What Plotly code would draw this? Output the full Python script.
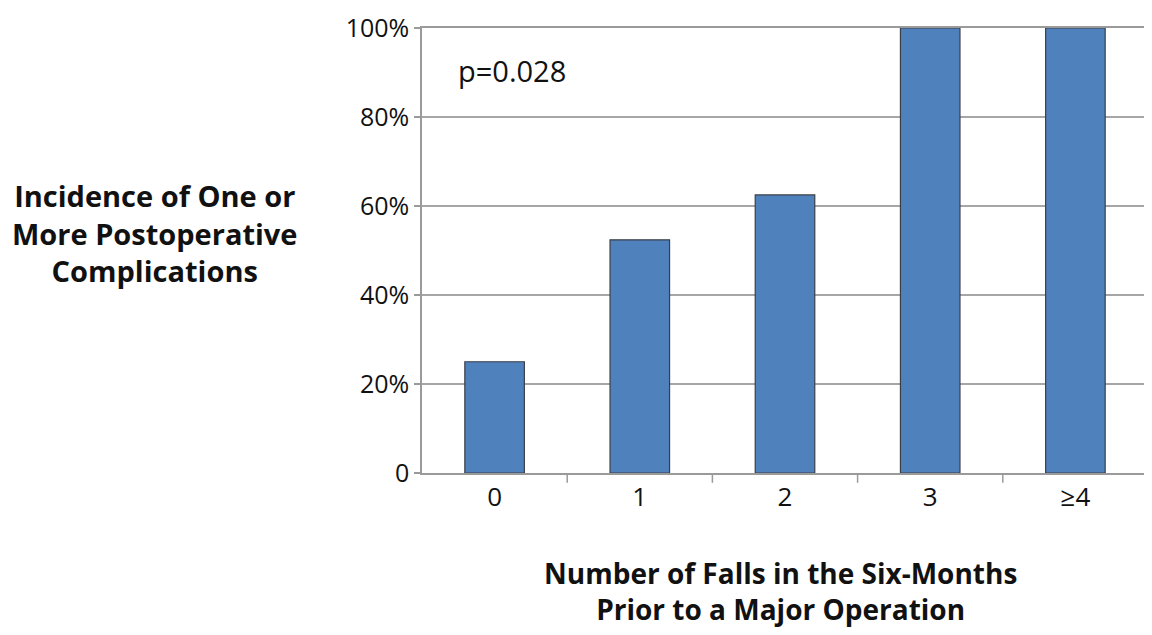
import plotly.graph_objects as go

categories = ["0", "1", "2", "3", "≥4"]
incidence = [25.0, 52.4, 62.5, 100.0, 100.0]
ytick_vals = [0, 20, 40, 60, 80, 100]
ytick_text = ["0", "20%", "40%", "60%", "80%", "100%"]

FONT = "'Open Sans', sans-serif"

fig = go.Figure(go.Bar(
    x=categories, y=incidence,
    marker=dict(color="#4F81BD", line=dict(color="#3a3f47", width=1.2)),
    width=0.41,
))

fig.update_layout(
    width=1152, height=635,
    margin=dict(l=414, r=12, t=20, b=170, autoexpand=False),
    plot_bgcolor="white", paper_bgcolor="white",
    showlegend=False,
    font=dict(family=FONT, size=26, color="#111111"),
    xaxis=dict(
        type="category", showgrid=False,
        showline=True, linecolor="#9a9a9a", linewidth=1.5, mirror=True,
        ticks="", tickfont=dict(size=26), automargin=False,
    ),
    yaxis=dict(
        range=[0, 100], tickvals=ytick_vals, ticktext=ytick_text,
        showgrid=True, gridcolor="#a6a6a6", gridwidth=1.5,
        showline=True, linecolor="#9a9a9a", linewidth=1.5, mirror=True,
        ticks="outside", ticklen=6, tickcolor="#9a9a9a", tickwidth=1.5,
        tickfont=dict(size=25), zeroline=False, automargin=False,
        ticklabeloverflow="allow",
    ),
)

# category boundary tick marks on x axis
for i in range(1, len(categories)):
    fig.add_shape(type="line", xref="x", yref="paper",
                  x0=i - 0.5, x1=i - 0.5, y0=0, y1=-0.022,
                  line=dict(color="#9a9a9a", width=1.5))

fig.add_annotation(text="p=0.028", xref="paper", yref="paper",
                   x=0.047, y=0.905, xanchor="left", yanchor="middle",
                   showarrow=False, font=dict(size=29))

fig.add_annotation(text="<b>Incidence of One or<br>More Postoperative<br>Complications</b>",
                   xref="paper", yref="paper", x=-0.368, y=0.54,
                   xanchor="center", yanchor="middle", showarrow=False,
                   align="center", font=dict(size=29))

fig.add_annotation(text="<b>Number of Falls in the Six-Months<br>Prior to a Major Operation</b>",
                   xref="paper", yref="paper", x=0.494, y=-0.265,
                   xanchor="center", yanchor="middle", showarrow=False,
                   align="center", font=dict(size=28))

fig.write_html("out.html")
